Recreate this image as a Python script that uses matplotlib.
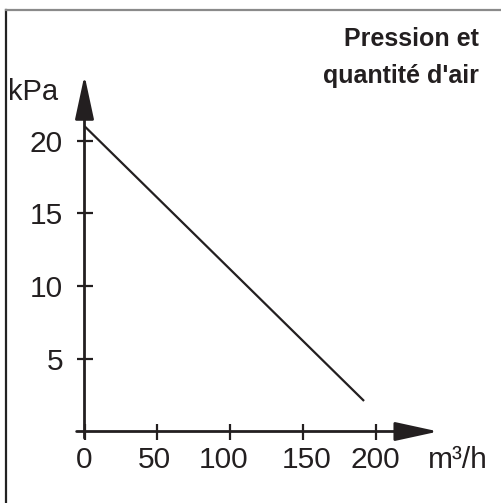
import matplotlib
matplotlib.use("Agg")
import matplotlib.pyplot as plt
import matplotlib.transforms as mtransforms
from matplotlib.lines import Line2D
from matplotlib import font_manager

# ---- data ----
flow = [0, 192]            # m3/h
pressure = [21.0, 2.1]     # kPa
x_ticks = [0, 50, 100, 150, 200]
y_ticks = [5, 10, 15, 20]
title_lines = ["Pression et", "quantité d'air"]
x_unit = "m³/h"
y_unit = "kPa"

W, H = 501, 503
fig = plt.figure(figsize=(W / 100, H / 100), dpi=100)

# axes: data 0..200 -> px 84.5..375.7 ; data 0..20 -> px 431.5..140.7 (from top)
x0, x1 = 84.5, 375.7
ytop, ybot = 140.7, 431.5
ax = fig.add_axes([x0 / W, 1 - ybot / H, (x1 - x0) / W, (ybot - ytop) / H])
ax.set_xlim(0, 200)
ax.set_ylim(0, 20)
for s in ax.spines.values():
    s.set_visible(False)
ax.patch.set_visible(False)

avail = {f.name for f in font_manager.fontManager.ttflist}
base_font = "Liberation Sans" if "Liberation Sans" in avail else "DejaVu Sans"
narrow_font = "Liberation Sans Narrow" if "Liberation Sans Narrow" in avail else base_font

axis_col = "#231f20"

# axis lines with arrows
ax.annotate("", xy=(243, 0), xytext=(-5.4, 0), xycoords="data",
            arrowprops=dict(arrowstyle="-|>,head_length=2.66,head_width=0.58",
                            lw=2.0, color=axis_col, shrinkA=0, shrinkB=0,
                            mutation_scale=10), annotation_clip=False)
ax.annotate("", xy=(0, 24.5), xytext=(0, -0.45), xycoords="data",
            arrowprops=dict(arrowstyle="-|>,head_length=2.7,head_width=0.58",
                            lw=2.0, color=axis_col, shrinkA=0, shrinkB=0,
                            mutation_scale=10), annotation_clip=False)

# data line
ax.plot(flow, pressure, color=axis_col, lw=1.6, clip_on=False, solid_capstyle="butt")

ax.set_xticks(x_ticks)
ax.set_yticks(y_ticks)
ax.set_xticklabels([str(v) for v in x_ticks], fontfamily=base_font, fontsize=21.5, color="#231f20")
ax.set_yticklabels([str(v) for v in y_ticks], fontfamily=base_font, fontsize=21.5, color="#231f20")
ax.tick_params(axis="x", direction="inout", length=11, width=1.6, color=axis_col, pad=5)
ax.tick_params(axis="y", direction="inout", length=11, width=1.6, color=axis_col, pad=10)

# slight hand-set shifts of x tick labels as in the original artwork (pixels)
label_shift_px = [0, -3, -7, 4, 0]
for lab, dx in zip(ax.get_xticklabels(), label_shift_px):
    lab.set_transform(lab.get_transform() +
                      mtransforms.ScaledTranslation(dx / 100, 0, fig.dpi_scale_trans))

# unit labels
ax.annotate(x_unit, xy=(256.5, 0), xytext=(0, -10.5), textcoords="offset points",
            ha="center", va="top", fontsize=21.5, fontfamily=base_font, color="#231f20",
            annotation_clip=False)
ax.text(-52.5, 22.8, y_unit, ha="left", va="baseline", fontsize=21,
        fontfamily=base_font, color="#231f20", clip_on=False)

# title
fig.text(479 / W, 1 - 46.5 / H, title_lines[0], ha="right", va="baseline",
         fontsize=18, fontweight="bold", fontfamily=[narrow_font, "DejaVu Sans"], color="#231f20")
fig.text(479 / W, 1 - 83 / H, title_lines[1], ha="right", va="baseline",
         fontsize=18, fontweight="bold", fontfamily=[narrow_font, "DejaVu Sans"], color="#231f20")

# frame lines (left dark, top gray)
fig.add_artist(Line2D([6 / W, 6 / W], [0, 1 - 10 / H], color="#222222", lw=1.6,
                      transform=fig.transFigure))
fig.add_artist(Line2D([6 / W, 1], [1 - 10 / H, 1 - 10 / H], color="#8a8a8a", lw=1.6,
                      transform=fig.transFigure))

fig.savefig("out.png", dpi=100)
